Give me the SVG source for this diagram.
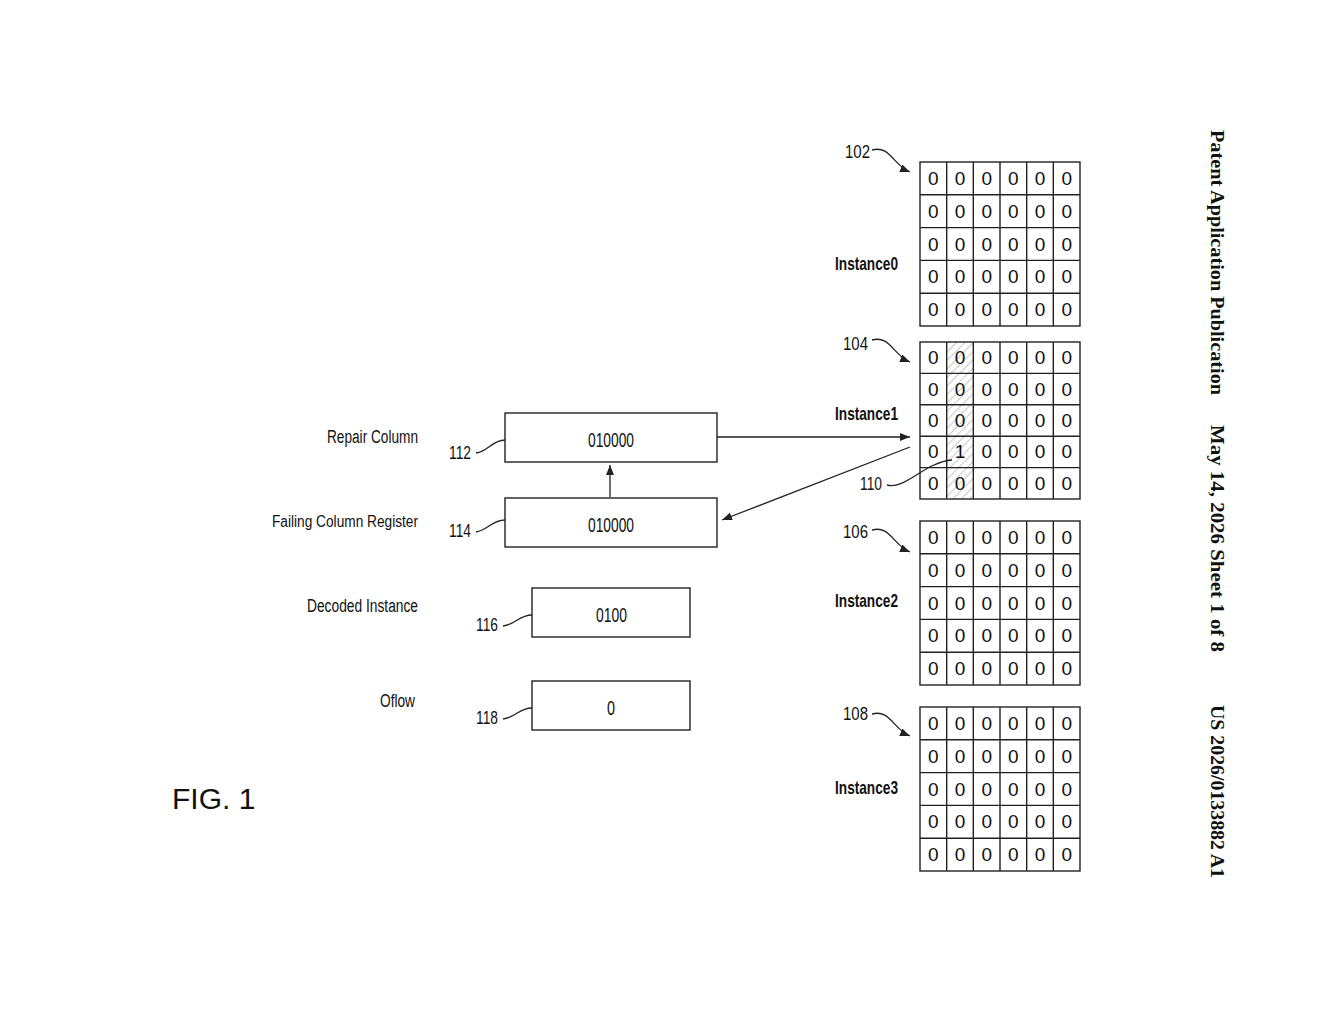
<svg xmlns="http://www.w3.org/2000/svg" width="1320" height="1024" viewBox="0 0 1320 1024">
<style>
.t{font-family:"Liberation Sans",Arial,sans-serif;fill:#111}
.c{font-family:"Liberation Sans",Arial,sans-serif;font-size:19px;fill:#111;text-anchor:middle}
.v{font-family:"Liberation Serif",serif;font-weight:bold;font-size:18px;fill:#111}
.g{fill:none;stroke:#222;stroke-width:1.4}
.b{fill:#fff;stroke:#222;stroke-width:1.4}
.ln{fill:none;stroke:#222;stroke-width:1.3}
</style>
<defs>
<marker id="ah" markerWidth="10" markerHeight="8" refX="10" refY="4" orient="auto" markerUnits="userSpaceOnUse"><path d="M0,0 L10,4 L0,8 Z" fill="#222"/></marker>
<pattern id="hatch" width="6" height="6" patternUnits="userSpaceOnUse" patternTransform="rotate(45)"><line x1="0" y1="0" x2="0" y2="6" stroke="#777" stroke-width="0.8"/></pattern>
</defs>
<rect width="1320" height="1024" fill="#fff"/>

<g id="instance0">
<rect class="g" x="920" y="162" width="160" height="164"/>
<path class="g" d="M946.7,162V326M973.3,162V326M1000,162V326M1026.7,162V326M1053.3,162V326M920,194.8H1080M920,227.6H1080M920,260.4H1080M920,293.2H1080"/>
<text class="c" x="933.3 960 986.7 1013.3 1040 1066.7" y="185">000000</text>
<text class="c" x="933.3 960 986.7 1013.3 1040 1066.7" y="218">000000</text>
<text class="c" x="933.3 960 986.7 1013.3 1040 1066.7" y="251">000000</text>
<text class="c" x="933.3 960 986.7 1013.3 1040 1066.7" y="283">000000</text>
<text class="c" x="933.3 960 986.7 1013.3 1040 1066.7" y="316">000000</text>
<text class="t" x="835" y="270" font-size="19" font-weight="bold" textLength="63" lengthAdjust="spacingAndGlyphs">Instance0</text>
<text class="t" x="845" y="158" font-size="19" textLength="25" lengthAdjust="spacingAndGlyphs">102</text>
<path class="ln" d="M872,150 C890,145 893,165 910,172" marker-end="url(#ah)"/>
</g>

<g id="instance1">
<rect x="946.7" y="342" width="26.6" height="157" fill="url(#hatch)"/>
<rect class="g" x="920" y="342" width="160" height="157"/>
<path class="g" d="M946.7,342V499M973.3,342V499M1000,342V499M1026.7,342V499M1053.3,342V499M920,373.4H1080M920,404.8H1080M920,436.2H1080M920,467.6H1080"/>
<text class="c" x="933.3 960 986.7 1013.3 1040 1066.7" y="364">000000</text>
<text class="c" x="933.3 960 986.7 1013.3 1040 1066.7" y="396">000000</text>
<text class="c" x="933.3 960 986.7 1013.3 1040 1066.7" y="427">000000</text>
<text class="c" x="933.3 960 986.7 1013.3 1040 1066.7" y="458">010000</text>
<text class="c" x="933.3 960 986.7 1013.3 1040 1066.7" y="490">000000</text>
<text class="t" x="835" y="420" font-size="19" font-weight="bold" textLength="63" lengthAdjust="spacingAndGlyphs">Instance1</text>
<text class="t" x="843" y="350" font-size="19" textLength="25" lengthAdjust="spacingAndGlyphs">104</text>
<path class="ln" d="M872,340 C890,335 893,355 910,362" marker-end="url(#ah)"/>
<text class="t" x="860" y="490" font-size="19" textLength="22" lengthAdjust="spacingAndGlyphs">110</text>
<path class="ln" d="M887,485 C905,490 925,462 952,460"/>
</g>

<g id="instance2">
<rect class="g" x="920" y="521" width="160" height="164"/>
<path class="g" d="M946.7,521V685M973.3,521V685M1000,521V685M1026.7,521V685M1053.3,521V685M920,553.8H1080M920,586.6H1080M920,619.4H1080M920,652.2H1080"/>
<text class="c" x="933.3 960 986.7 1013.3 1040 1066.7" y="544">000000</text>
<text class="c" x="933.3 960 986.7 1013.3 1040 1066.7" y="577">000000</text>
<text class="c" x="933.3 960 986.7 1013.3 1040 1066.7" y="610">000000</text>
<text class="c" x="933.3 960 986.7 1013.3 1040 1066.7" y="642">000000</text>
<text class="c" x="933.3 960 986.7 1013.3 1040 1066.7" y="675">000000</text>
<text class="t" x="835" y="607" font-size="19" font-weight="bold" textLength="63" lengthAdjust="spacingAndGlyphs">Instance2</text>
<text class="t" x="843" y="538" font-size="19" textLength="25" lengthAdjust="spacingAndGlyphs">106</text>
<path class="ln" d="M872,530 C890,525 893,545 910,552" marker-end="url(#ah)"/>
</g>

<g id="instance3">
<rect class="g" x="920" y="707" width="160" height="164"/>
<path class="g" d="M946.7,707V871M973.3,707V871M1000,707V871M1026.7,707V871M1053.3,707V871M920,739.8H1080M920,772.6H1080M920,805.4H1080M920,838.2H1080"/>
<text class="c" x="933.3 960 986.7 1013.3 1040 1066.7" y="730">000000</text>
<text class="c" x="933.3 960 986.7 1013.3 1040 1066.7" y="763">000000</text>
<text class="c" x="933.3 960 986.7 1013.3 1040 1066.7" y="796">000000</text>
<text class="c" x="933.3 960 986.7 1013.3 1040 1066.7" y="828">000000</text>
<text class="c" x="933.3 960 986.7 1013.3 1040 1066.7" y="861">000000</text>
<text class="t" x="835" y="794" font-size="19" font-weight="bold" textLength="63" lengthAdjust="spacingAndGlyphs">Instance3</text>
<text class="t" x="843" y="720" font-size="19" textLength="25" lengthAdjust="spacingAndGlyphs">108</text>
<path class="ln" d="M872,714 C890,709 893,729 910,736" marker-end="url(#ah)"/>
</g>

<g id="repair">
<text class="t" x="327" y="443" font-size="18" textLength="91" lengthAdjust="spacingAndGlyphs">Repair Column</text>
<rect class="b" x="505" y="413" width="212" height="49"/>
<text class="t" x="588" y="447" font-size="20" textLength="46" lengthAdjust="spacingAndGlyphs">010000</text>
<text class="t" x="449" y="459" font-size="19" textLength="22" lengthAdjust="spacingAndGlyphs">112</text>
<path class="ln" d="M476,453 C488,452 492,440 505,440"/>
</g>
<g id="failing">
<text class="t" x="272" y="527" font-size="16" textLength="146" lengthAdjust="spacingAndGlyphs">Failing Column Register</text>
<rect class="b" x="505" y="498" width="212" height="49"/>
<text class="t" x="588" y="532" font-size="20" textLength="46" lengthAdjust="spacingAndGlyphs">010000</text>
<text class="t" x="449" y="537" font-size="19" textLength="22" lengthAdjust="spacingAndGlyphs">114</text>
<path class="ln" d="M476,532 C488,530 492,520 505,520"/>
</g>
<g id="decoded">
<text class="t" x="307" y="612" font-size="18" textLength="111" lengthAdjust="spacingAndGlyphs">Decoded Instance</text>
<rect class="b" x="532" y="588" width="158" height="49"/>
<text class="t" x="596" y="622" font-size="20" textLength="31" lengthAdjust="spacingAndGlyphs">0100</text>
<text class="t" x="476" y="631" font-size="19" textLength="22" lengthAdjust="spacingAndGlyphs">116</text>
<path class="ln" d="M503,626 C515,625 519,615 532,615"/>
</g>
<g id="oflow">
<text class="t" x="380" y="707" font-size="19" textLength="35" lengthAdjust="spacingAndGlyphs">Oflow</text>
<rect class="b" x="532" y="681" width="158" height="49"/>
<text class="t" x="607" y="715" font-size="20" textLength="8" lengthAdjust="spacingAndGlyphs">0</text>
<text class="t" x="476" y="724" font-size="19" textLength="22" lengthAdjust="spacingAndGlyphs">118</text>
<path class="ln" d="M503,719 C515,718 519,708 532,708"/>
</g>

<g id="connectors">
<line class="ln" x1="717" y1="437" x2="910" y2="437" marker-end="url(#ah)"/>
<line class="ln" x1="910" y1="447" x2="722" y2="520" marker-end="url(#ah)"/>
<line class="ln" x1="610" y1="497" x2="610" y2="465" marker-end="url(#ah)"/>
</g>

<text class="t" x="172" y="809" font-size="30">FIG. 1</text>
<text class="v" x="1211" y="130" transform="rotate(90 1211 130)" textLength="265" lengthAdjust="spacingAndGlyphs">Patent Application Publication</text>
<text class="v" x="1211" y="425" transform="rotate(90 1211 425)" textLength="227" lengthAdjust="spacingAndGlyphs">May 14, 2026  Sheet 1 of 8</text>
<text class="v" x="1211" y="705" transform="rotate(90 1211 705)" textLength="173" lengthAdjust="spacingAndGlyphs">US 2026/0133882 A1</text>
</svg>
